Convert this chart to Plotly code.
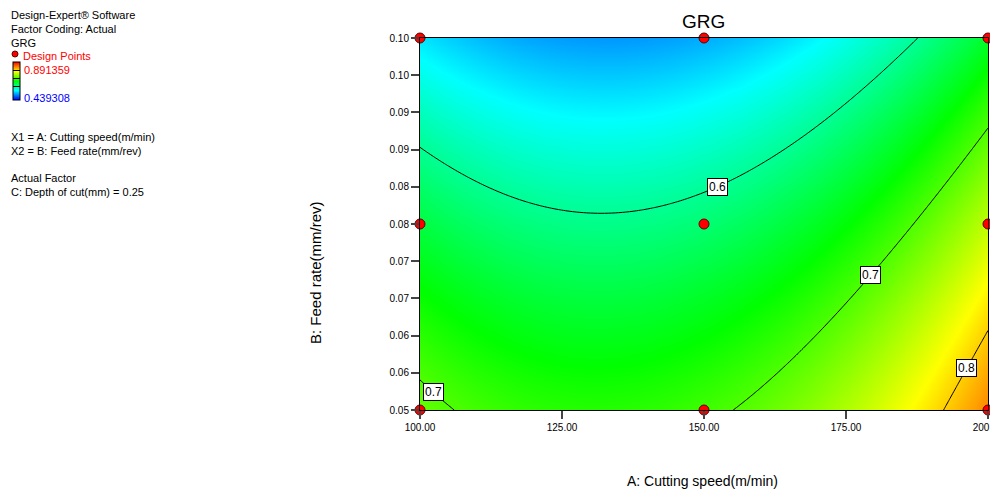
import numpy as np
import plotly.graph_objects as go

# ---------------- data ----------------
cutting_speed_levels = [100, 150, 200]          # A: m/min (design levels)
feed_rate_levels = [0.05, 0.075, 0.10]          # B: mm/rev (design levels)
# predicted GRG at the design points, rows = feed rate, cols = cutting speed
grg_at_design_points = [
    [0.7104, 0.6929, 0.8321],
    [0.6368, 0.6154, 0.7507],
    [0.5410, 0.5157, 0.6471],
]
contour_levels = [0.6, 0.7, 0.8]
grg_min = 0.439308
grg_max = 0.891359
x_tick_vals = [100, 125, 150, 175, 200]
x_tick_text = ["100.00", "125.00", "150.00", "175.00", "200.00"]
y_tick_vals = [0.05, 0.055, 0.06, 0.065, 0.07, 0.075, 0.08, 0.085, 0.09, 0.095, 0.10]
y_tick_text = ["0.05", "0.06", "0.06", "0.07", "0.07", "0.08", "0.08", "0.09", "0.09", "0.10", "0.10"]
label_levels = ["0.6", "0.7", "0.7", "0.8"]
label_speeds = [152.3, 179.4, 102.3, 196.3]

# ---------------- quadratic response-surface model ----------------
A_c, B_c = np.meshgrid(cutting_speed_levels, feed_rate_levels)
def terms(A, B):
    a = (np.asarray(A, float) - 150.0) / 50.0
    b = (np.asarray(B, float) - 0.075) / 0.025
    return np.stack([np.ones_like(a), a, b, a * b, a * a, b * b], axis=-1)
coef, *_ = np.linalg.lstsq(terms(A_c.ravel(), B_c.ravel()),
                           np.array(grg_at_design_points).ravel(), rcond=None)
def model(A, B):
    return terms(A, B) @ coef

A_grid = np.linspace(100, 200, 161)
B_grid = np.linspace(0.05, 0.10, 161)
AA, BB = np.meshgrid(A_grid, B_grid)
Z = model(AA, BB)

colorscale = [[0, "rgb(0,0,255)"], [0.25, "rgb(0,255,255)"], [0.5, "rgb(0,255,0)"],
              [0.75, "rgb(255,255,0)"], [1, "rgb(255,0,0)"]]

# geometry (the page has an 8px body margin, so the figure is 8px smaller)
OFF = 8
W, H = 998 - OFF, 490 - OFF
L, R, T, Bm = 412, 10, 30, 80
PW, PH = W - L - R, H - T - Bm
def px_x(px):   # screen pixel -> paper x
    return (px - OFF - L) / PW
def px_y(py):   # screen pixel -> paper y
    return (H - Bm - (py - OFF)) / PH

FONT = "Liberation Sans, Arial, sans-serif"

fig = go.Figure()
fig.add_trace(go.Contour(
    x=A_grid, y=B_grid, z=Z,
    colorscale=colorscale, zmin=grg_min, zmax=grg_max,
    contours=dict(start=contour_levels[0], end=contour_levels[-1], size=0.1,
                  coloring="heatmap", showlines=True, showlabels=False),
    line=dict(color="black", width=1),
    hoverinfo="skip",
    colorbar=dict(x=px_x(12.5), xanchor="left", y=px_y(81.5), yanchor="middle",
                  len=38, lenmode="pixels", thickness=7, thicknessmode="pixels",
                  outlinewidth=1, outlinecolor="black", showticklabels=False,
                  ticks="", xpad=0, ypad=0),
))

# design points
dp_A = [a for b in feed_rate_levels for a in cutting_speed_levels]
dp_B = [b for b in feed_rate_levels for a in cutting_speed_levels]
fig.add_trace(go.Scatter(
    x=dp_A, y=dp_B, mode="markers", cliponaxis=False, hoverinfo="skip",
    marker=dict(color="#ff0000", size=10, line=dict(color="#600000", width=1)),
    showlegend=False,
))

annotations = []
# contour labels placed on the model's iso-lines
Bs = np.linspace(0.05, 0.10, 2001)
for lvl, sp in zip(label_levels, label_speeds):
    vals = model(np.full_like(Bs, sp), Bs) - float(lvl)
    idx = np.where(np.sign(vals[:-1]) != np.sign(vals[1:]))[0]
    if len(idx):
        i = idx[0]
        yb = Bs[i] - vals[i] * (Bs[i + 1] - Bs[i]) / (vals[i + 1] - vals[i])
    else:
        yb = 0.075
    annotations.append(dict(x=sp, y=yb, xref="x", yref="y", text=lvl, showarrow=False,
                            bgcolor="white", bordercolor="black", borderwidth=1, borderpad=1,
                            font=dict(family=FONT, size=12, color="black")))

# left-hand legend text
legend_lines = [
    ("Design-Expert® Software", 15.5, "black"),
    ("Factor Coding: Actual", 29, "black"),
    ("GRG", 42.5, "black"),
    ("Design Points", 56, "#ff0000"),
    ("X1 = A: Cutting speed(m/min)", 137, "black"),
    ("X2 = B: Feed rate(mm/rev)", 151, "black"),
    ("Actual Factor", 178, "black"),
    ("C: Depth of cut(mm) = 0.25", 192, "black"),
]
for txt, py, col in legend_lines:
    x0 = 21 if txt == "Design Points" else 9
    annotations.append(dict(x=px_x(x0), y=px_y(py), xref="paper", yref="paper", text=txt,
                            showarrow=False, xanchor="left", yanchor="middle",
                            font=dict(family=FONT, size=11, color=col)))
annotations.append(dict(x=px_x(22), y=px_y(70), xref="paper", yref="paper",
                        text=f"{grg_max:.6f}", showarrow=False, xanchor="left", yanchor="middle",
                        font=dict(family=FONT, size=11, color="#ff0000")))
annotations.append(dict(x=px_x(22), y=px_y(98), xref="paper", yref="paper",
                        text=f"{grg_min:.6f}", showarrow=False, xanchor="left", yanchor="middle",
                        font=dict(family=FONT, size=11, color="#0000ff")))
# title and axis titles
annotations.append(dict(x=px_x(703), y=px_y(21), xref="paper", yref="paper", text="GRG",
                        showarrow=False, xanchor="center", yanchor="middle",
                        font=dict(family=FONT, size=19, color="black")))
annotations.append(dict(x=px_x(702), y=px_y(481), xref="paper", yref="paper",
                        text="A: Cutting speed(m/min)", showarrow=False,
                        xanchor="center", yanchor="middle",
                        font=dict(family=FONT, size=14, color="black")))
annotations.append(dict(x=px_x(315), y=px_y(273), xref="paper", yref="paper",
                        text="B: Feed rate(mm/rev)", showarrow=False, textangle=-90,
                        xanchor="center", yanchor="middle",
                        font=dict(family=FONT, size=15, color="black")))

shapes = [dict(type="circle", xref="paper", yref="paper",
               x0=px_x(12), x1=px_x(18), y0=px_y(57), y1=px_y(51),
               fillcolor="#ff0000", line=dict(color="#600000", width=1))]

fig.update_layout(
    width=W, height=H,
    margin=dict(l=L, r=R, t=T, b=Bm, pad=0, autoexpand=False),
    paper_bgcolor="white", plot_bgcolor="white",
    showlegend=False,
    annotations=annotations, shapes=shapes,
    font=dict(family=FONT, size=10, color="black"),
    xaxis=dict(range=[100, 200], tickvals=x_tick_vals, ticktext=x_tick_text,
               ticks="outside", ticklen=8, tickcolor="#444", tickwidth=1.5,
               ticklabeloverflow="allow", automargin=False,
               showline=True, linecolor="black", linewidth=1, mirror=True,
               showgrid=False, zeroline=False, tickfont=dict(size=10)),
    yaxis=dict(range=[0.05, 0.10], tickvals=y_tick_vals, ticktext=y_tick_text,
               ticks="outside", ticklen=8, tickcolor="#444", tickwidth=1.5,
               ticklabeloverflow="allow", automargin=False,
               showline=True, linecolor="black", linewidth=1, mirror=True,
               showgrid=False, zeroline=False, tickfont=dict(size=10)),
)

fig.write_html("out.html")
